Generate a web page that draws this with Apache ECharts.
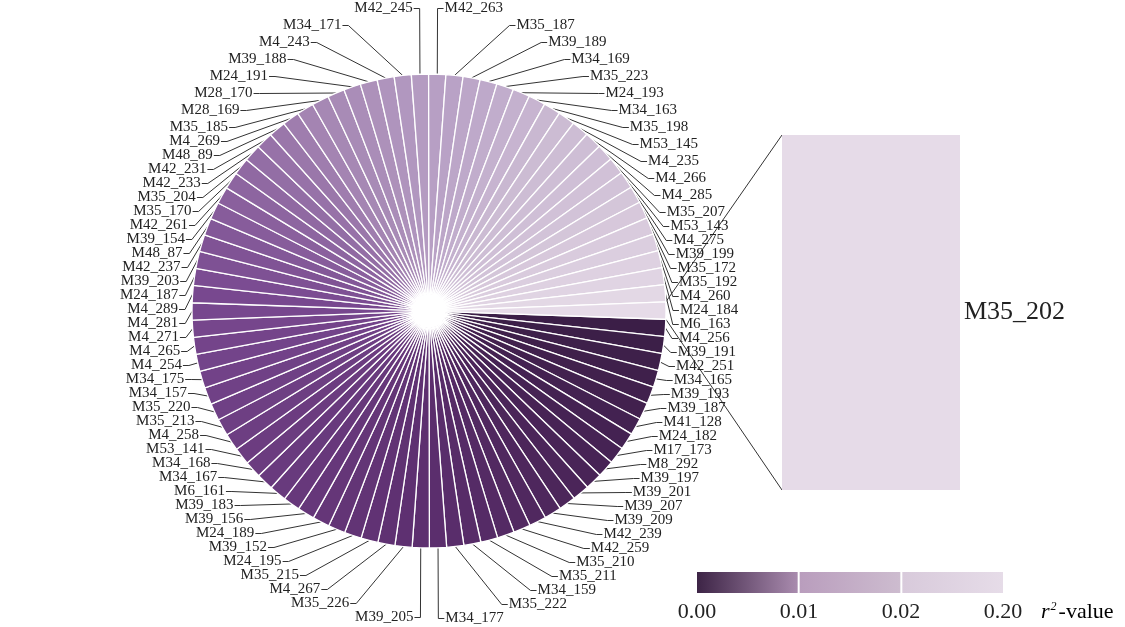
<!DOCTYPE html>
<html>
<head>
<meta charset="utf-8">
<script src="https://cdn.jsdelivr.net/npm/echarts@6/dist/echarts.min.js"></script>
<style>
  html, body { margin: 0; padding: 0; background: #ffffff; }
  #chart { width: 1125px; height: 627px; }
</style>
</head>
<body>
<div id="chart"></div>
<script>
// Markers, listed clockwise starting just below the 3 o'clock position
const markers = [
  'M4_256', 'M39_191', 'M42_251', 'M34_165', 'M39_193', 'M39_187', 'M41_128', 'M24_182', 'M17_173', 'M8_292',
  'M39_197', 'M39_201', 'M39_207', 'M39_209', 'M42_239', 'M42_259', 'M35_210', 'M35_211', 'M34_159', 'M35_222',
  'M34_177', 'M39_205', 'M35_226', 'M4_267', 'M35_215', 'M24_195', 'M39_152', 'M24_189', 'M39_156', 'M39_183',
  'M6_161', 'M34_167', 'M34_168', 'M53_141', 'M4_258', 'M35_213', 'M35_220', 'M34_157', 'M34_175', 'M4_254',
  'M4_265', 'M4_271', 'M4_281', 'M4_289', 'M24_187', 'M39_203', 'M42_237', 'M48_87', 'M39_154', 'M42_261',
  'M35_170', 'M35_204', 'M42_233', 'M42_231', 'M48_89', 'M4_269', 'M35_185', 'M28_169', 'M28_170', 'M24_191',
  'M39_188', 'M4_243', 'M34_171', 'M42_245', 'M42_263', 'M35_187', 'M39_189', 'M34_169', 'M35_223', 'M24_193',
  'M34_163', 'M35_198', 'M53_145', 'M4_235', 'M4_266', 'M4_285', 'M35_207', 'M53_143', 'M4_275', 'M39_199',
  'M35_172', 'M35_192', 'M4_260', 'M24_184', 'M6_163', 'M35_202'
];

// r² value of each marker, same order as above
const r2Values = [
  0.0001, 0.0002, 0.0004, 0.0005, 0.0007, 0.0008, 0.0010, 0.0011, 0.0013, 0.0014,
  0.0016, 0.0018, 0.0019, 0.0021, 0.0023, 0.0025, 0.0027, 0.0029, 0.0031, 0.0033,
  0.0035, 0.0037, 0.0039, 0.0040, 0.0042, 0.0044, 0.0045, 0.0047, 0.0049, 0.0050,
  0.0052, 0.0053, 0.0055, 0.0056, 0.0058, 0.0059, 0.0061, 0.0062, 0.0064, 0.0066,
  0.0067, 0.0069, 0.0071, 0.0072, 0.0074, 0.0076, 0.0077, 0.0079, 0.0081, 0.0083,
  0.0085, 0.0087, 0.0089, 0.0091, 0.0093, 0.0096, 0.0099, 0.0103, 0.0108, 0.0113,
  0.0119, 0.0125, 0.0131, 0.0138, 0.0144, 0.0150, 0.0157, 0.0163, 0.0170, 0.0177,
  0.0184, 0.0191, 0.0198, 0.0210, 0.0260, 0.0330, 0.0420, 0.0520, 0.0640, 0.0780,
  0.0930, 0.1100, 0.1280, 0.1470, 0.1680, 0.1900
];

// Marker shown enlarged as a bar beside the pie
const highlighted = 'M35_202';

// Colour-bar tick labels
const legendTicks = [0.00, 0.01, 0.02, 0.20];
const legendTickLabels = ['0.00', '0.01', '0.02', '0.20'];

// ---- layout ----
const CX = 429, CY = 311, R_OUT = 237, R_IN = 17;
const START_ANGLE = -2;
const BAR_BOX = { left: 782, top: 135, width: 178, height: 355 };
const LEGEND_BOX = { left: 697, top: 572, width: 306, height: 21, gap: 2 };
const SERIF = '"Liberation Serif", "DejaVu Serif", serif';

// colour ramp for the slices (t = 0..1 along the colour bar, each tick interval a third)
const ramp = [
  [0.000, '#3a1e46'], [0.060, '#4b2559'], [0.120, '#5c2e6e'], [0.240, '#78488f'],
  [0.333, '#a586b3'], [0.500, '#b9a2c6'], [0.667, '#cdbdd4'], [0.800, '#d9cbdd'], [1.000, '#e7dde9']
];
// end colours of the three colour-bar segments
const legendSegColors = [
  ['#3d2446', '#a98bae'],
  ['#b99dbd', '#cdbccf'],
  ['#d8cadb', '#e6dce8']
];

function valueToT(v) {
  const n = legendTicks.length - 1;
  for (let i = 0; i < n; i++) {
    const a = legendTicks[i], b = legendTicks[i + 1];
    if (v <= b || i === n - 1) {
      const f = Math.max(0, Math.min(1, (v - a) / (b - a)));
      return (i + f) / n;
    }
  }
  return 1;
}
function hexToRgb(h) {
  return [parseInt(h.slice(1, 3), 16), parseInt(h.slice(3, 5), 16), parseInt(h.slice(5, 7), 16)];
}
function rampColor(t) {
  for (let i = 0; i < ramp.length - 1; i++) {
    const [t0, c0] = ramp[i], [t1, c1] = ramp[i + 1];
    if (t <= t1) {
      const f = (t - t0) / (t1 - t0);
      const a = hexToRgb(c0), b = hexToRgb(c1);
      const c = a.map((x, k) => Math.round(x + (b[k] - x) * f));
      return 'rgb(' + c.join(',') + ')';
    }
  }
  return ramp[ramp.length - 1][1];
}
function colorOf(v) { return rampColor(valueToT(v)); }

const pieData = markers.map((name, i) => ({
  name: name,
  value: 1,
  r2: r2Values[i],
  itemStyle: { color: colorOf(r2Values[i]) },
  label: name === highlighted ? { show: false } : undefined,
  labelLine: name === highlighted ? { show: false } : undefined
}));

const hiIndex = markers.indexOf(highlighted);
const hiValue = r2Values[hiIndex];

// edges of the highlighted slice, for the connector lines to the bar
const step = 360 / markers.length;
function edgePoint(deg) {
  const a = deg * Math.PI / 180;
  return [CX + R_OUT * Math.cos(a), CY - R_OUT * Math.sin(a)];
}
const pTop = edgePoint(START_ANGLE - hiIndex * step + 360);
const pBot = edgePoint(START_ANGLE - (hiIndex + 1) * step + 360);

// colour bar
const legendGraphics = [];
const nSeg = legendTicks.length - 1;
const segW = (LEGEND_BOX.width - LEGEND_BOX.gap * (nSeg - 1)) / nSeg;
for (let s = 0; s < nSeg; s++) {
  legendGraphics.push({
    type: 'rect',
    shape: { x: LEGEND_BOX.left + s * (segW + LEGEND_BOX.gap), y: LEGEND_BOX.top, width: segW, height: LEGEND_BOX.height },
    style: {
      fill: new echarts.graphic.LinearGradient(0, 0, 1, 0, [
        { offset: 0, color: legendSegColors[s][0] },
        { offset: 1, color: legendSegColors[s][1] }
      ])
    },
    silent: true
  });
}
legendTicks.forEach((v, i) => {
  legendGraphics.push({
    type: 'text',
    x: LEGEND_BOX.left + LEGEND_BOX.width * valueToT(v),
    y: LEGEND_BOX.top + LEGEND_BOX.height + 19,
    style: {
      text: legendTickLabels[i], font: '22px ' + SERIF, fill: '#222',
      align: 'center', verticalAlign: 'middle'
    },
    silent: true
  });
});
legendGraphics.push({
  type: 'text',
  x: LEGEND_BOX.left + LEGEND_BOX.width + 38,
  y: LEGEND_BOX.top + LEGEND_BOX.height + 19,
  style: {
    text: '{i|r}{s|2}{n|-value}',
    verticalAlign: 'middle',
    rich: {
      i: { fontFamily: SERIF, fontSize: 22, fontStyle: 'italic', color: '#222' },
      s: { fontFamily: SERIF, fontSize: 12, fontStyle: 'italic', color: '#222', verticalAlign: 'top', padding: [0, 2, 10, 1] },
      n: { fontFamily: SERIF, fontSize: 22, color: '#222' }
    }
  },
  silent: true
});

const chart = echarts.init(document.getElementById('chart'), null, { renderer: 'canvas' });
chart.setOption({
  animation: false,
  backgroundColor: '#ffffff',
  grid: { left: BAR_BOX.left, top: BAR_BOX.top, width: BAR_BOX.width, height: BAR_BOX.height },
  xAxis: { type: 'category', data: [highlighted], show: false },
  yAxis: { type: 'value', min: 0, max: hiValue, show: false },
  series: [
    {
      type: 'pie',
      center: [CX, CY],
      radius: [R_IN, R_OUT],
      startAngle: START_ANGLE,
      clockwise: true,
      avoidLabelOverlap: true,
      data: pieData,
      itemStyle: { borderColor: '#ffffff', borderWidth: 1.3 },
      label: {
        show: true,
        position: 'outside',
        formatter: '{b}',
        fontFamily: SERIF,
        fontSize: 15,
        lineHeight: 14,
        color: '#222',
        padding: 0,
        distanceToLabelLine: 1
      },
      labelLine: { show: true, length: 8, length2: 6, lineStyle: { color: '#333', width: 1 } },
      labelLayout: { hideOverlap: false },
      emphasis: { disabled: true }
    },
    {
      type: 'bar',
      data: [{ value: hiValue, itemStyle: { color: colorOf(hiValue) } }],
      barWidth: '100%',
      label: {
        show: true, position: 'right', distance: 4, formatter: highlighted,
        fontFamily: SERIF, fontSize: 26, color: '#222'
      },
      emphasis: { disabled: true }
    }
  ],
  graphic: [
    {
      type: 'line', silent: true,
      shape: { x1: BAR_BOX.left, y1: BAR_BOX.top, x2: pTop[0], y2: pTop[1] },
      style: { stroke: '#333', lineWidth: 1 }
    },
    {
      type: 'line', silent: true,
      shape: { x1: BAR_BOX.left, y1: BAR_BOX.top + BAR_BOX.height, x2: pBot[0], y2: pBot[1] },
      style: { stroke: '#333', lineWidth: 1 }
    }
  ].concat(legendGraphics)
});
</script>
</body>
</html>
